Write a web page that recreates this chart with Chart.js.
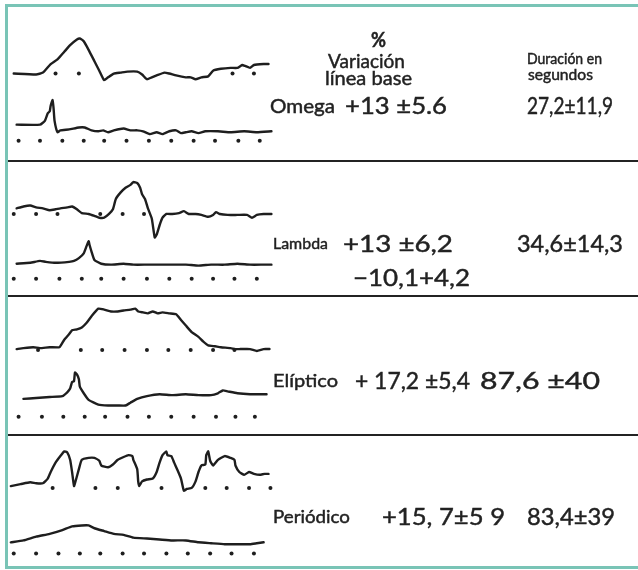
<!DOCTYPE html>
<html>
<head>
<meta charset="utf-8">
<script src="https://cdn.jsdelivr.net/npm/chart.js@4.4.1/dist/chart.umd.min.js"></script>
<style>
  html,body{margin:0;padding:0;background:#fff;}
  body{width:638px;height:570px;position:relative;overflow:hidden;font-family:Lato,"Noto Sans",sans-serif;color:#222;}
  canvas{position:absolute;left:0;}
  .frame{position:absolute;left:5px;top:4px;width:645px;height:565px;box-sizing:border-box;border:3px solid #79c4b6;z-index:5;}
  .rule{position:absolute;left:6px;width:632px;height:2px;background:#232323;z-index:4;}
  .txt{position:absolute;white-space:nowrap;transform-origin:0 50%;z-index:6;line-height:1;-webkit-text-stroke:0.45px #222;}
</style>
</head>
<body>
<div class="frame"></div>
<div class="rule" style="top:160px"></div>
<div class="rule" style="top:295px"></div>
<div class="rule" style="top:434px"></div>
<canvas id="p1" width="290" height="150" style="top:8px"></canvas>
<canvas id="p2" width="290" height="130" style="top:164px"></canvas>
<canvas id="p3" width="290" height="134" style="top:299px"></canvas>
<canvas id="p4" width="290" height="128" style="top:438px"></canvas>
<script>
// ---- data (position along trace, amplitude above the dotted baseline) ----
const omegaTopX = [10,33,40,48,55,62,68,75,78,82,87,93,98,103,107,113,120,127,137,142,147,152,157,165,170,177,187,192,197,203,210,215,223,233,240,245,248,253,257,267,272];
const omegaTopY = [0,-1,1,10,15,23,30,36,37,34,25,13,3,-7,-4,0,1,2,2,-1,-6,-4,-2,1,0,-2,-4,-4,-6,-4,-3,3,5,6,6,9,8,6,9,10,10];
const omegaTopDots = [53,77,235,257];
const omegaBotX = [13,37,42,45,47,48,50,51,52,55,58,67,77,83,90,97,102,107,113,123,130,137,143,150,157,163,170,177,182,187,193,200,207,220,233,247,260,275];
const omegaBotY = [17,17,21,29,31,37,43,34,21,9,11,12,14,14,11,10,11,9,11,13,11,11,10,7,9,7,10,11,8,9,10,8,10,10,9,10,9,10];
const omegaBotDots = [15,37,60,82,103,126,149,172,195,217,241,263];

const lambdaTopX = [13,20,27,33,40,47,53,58,65,70,75,80,87,93,98,103,108,112,115,120,125,130,133,137,140,142,145,148,152,155,157,160,163,167,173,180,185,190,197,203,210,215,218,222,230,240,250,255,260,267,275];
const lambdaTopY = [6,8,9,7,6,4,5,6,7,8,5,1,0,-2,-4,-4,0,5,16,23,28,31,34,33,28,21,16,6,-5,-25,-22,-12,-4,0,0,1,3,0,0,-1,-3,-1,2,0,-1,-1,-1,-4,-1,0,0];
const lambdaTopDots = [10,33,55,99,122,144];
const lambdaBotX = [13,27,37,43,53,67,72,77,82,85,87,88,90,93,100,110,123,133,147,160,173,187,200,213,227,240,253,267,275];
const lambdaBotY = [16,17,19,18,17,18,19,22,27,35,40,36,29,20,16,15,16,15,15,15,15,15,14,15,15,16,15,15,15];
const lambdaBotDots = [10,33,57,80,100,123,147,170,193,215,237,260];

const elipTopX = [13,20,30,37,47,57,62,67,70,75,80,85,90,97,103,110,117,123,130,135,138,143,148,153,158,163,170,177,182,187,193,200,205,210,217,223,233,238,243,253,260,267,273];
const elipTopY = [1,2,3,2,3,3,11,17,21,22,24,29,36,44,43,41,41,42,43,44,41,40,39,41,39,40,39,38,32,26,19,14,9,5,4,3,2,1,1,1,-1,1,1];
const elipTopDots = [35,79,101,124,147,169,192,215,237];
const elipBotX = [20,33,47,60,65,68,70,72,73,75,77,78,82,87,97,107,117,125,130,137,147,160,173,187,200,213,220,225,230,240,253,267,270];
const elipBotY = [19,20,21,22,26,30,37,38,47,45,40,32,25,18,13,12,12,12,15,19,22,24,23,24,23,23,25,28,27,25,24,24,24];
const elipBotDots = [15,39,61,83,104,127,149,172,195,218,238,258];

const perTopX = [7,17,27,33,40,45,48,53,58,62,65,68,70,72,73,77,80,87,93,98,100,107,112,117,123,128,132,133,137,138,139,142,147,153,157,160,163,167,168,172,175,178,182,185,188,193,197,200,203,207,208,210,212,215,220,227,233,237,238,242,247,252,257,263,268,272];
const perTopY = [2,4,6,5,5,10,17,27,34,39,38,30,17,2,5,20,30,32,32,29,24,22,25,30,33,35,34,30,20,7,2,7,9,10,17,27,35,39,35,34,27,20,10,-3,-1,0,7,17,24,25,35,39,29,24,30,34,32,30,24,17,14,17,15,14,15,15];
const perTopDots = [50,94,117,162,207,229,252,274];
const perBotX = [7,20,33,47,60,70,80,87,93,103,113,123,133,147,160,173,187,200,213,227,240,253,260,267];
const perBotY = [12,14,18,21,25,29,30,30,27,24,21,20,17,16,15,14,14,12,11,10,10,10,11,12];
const perBotDots = [10,33,56,78,99,122,144,167,189,212,234,257];

const patterns = ['Omega','Lambda','Elíptico','Periódico'];
const variation = ['+13 ±5.6','+13 ±6,2','+ 17,2 ±5,4','+15, 7±5 9'];
const variation2 = ['−10,1+4,2'];
const duration = ['27,2±11,9','34,6±14,3','87,6 ±40','83,4±39'];

// ---- drawing ----
const INK = '#1e1e1e';
function pts(xs, ys){ return xs.map((x,i)=>({x:x, y:ys[i]})); }
function dots(xs){ return xs.map(x=>({x:x, y:0})); }
function lineDs(xs, ys, axis){
  return {data:pts(xs,ys), showLine:true, borderColor:INK, borderWidth:2.4, pointRadius:0, tension:0.15, yAxisID:axis, borderJoinStyle:'round', borderCapStyle:'round'};
}
function dotDs(xs, axis){
  return {data:dots(xs), showLine:false, pointRadius:2, pointBackgroundColor:INK, pointBorderColor:INK, pointBorderWidth:0, yAxisID:axis};
}
function panel(id, top, height, baseTop, baseBot, tX, tY, tD, bX, bY, bD){
  new Chart(document.getElementById(id), {
    type:'scatter',
    data:{datasets:[dotDs(tD,'yT'), lineDs(tX,tY,'yT'), dotDs(bD,'yB'), lineDs(bX,bY,'yB')]},
    options:{
      responsive:false, animation:false, devicePixelRatio:1, events:[],
      layout:{padding:0},
      plugins:{legend:{display:false}, tooltip:{enabled:false}},
      scales:{
        x:{type:'linear', min:0, max:290, display:false},
        yT:{type:'linear', min:baseTop-(top+height), max:baseTop-top, display:false},
        yB:{type:'linear', min:baseBot-(top+height), max:baseBot-top, display:false}
      }
    }
  });
}
panel('p1', 8, 150, 73, 144, omegaTopX, omegaTopY, omegaTopDots, omegaBotX, omegaBotY, omegaBotDots);
panel('p2', 164, 130, 213, 282, lambdaTopX, lambdaTopY, lambdaTopDots, lambdaBotX, lambdaBotY, lambdaBotDots);
panel('p3', 299, 134, 349, 420, elipTopX, elipTopY, elipTopDots, elipBotX, elipBotY, elipBotDots);
panel('p4', 438, 128, 487, 557, perTopX, perTopY, perTopDots, perBotX, perBotY, perBotDots);

// ---- text ----
const texts = [
  {t:'%', x:378, y:39, s:20, b:700, w:15, c:true},
  {t:'Variación', x:328, y:60, s:19, w:77},
  {t:'línea base', x:325, y:77, s:19, w:87},
  {t:'Duración en', x:527, y:59, s:14.5, w:75},
  {t:'segundos', x:528, y:75, s:14.5, w:65},
  {t:patterns[0], x:270, y:105, s:19, w:65},
  {t:variation[0], x:345, y:105, s:24, w:102},
  {t:duration[0], x:527, y:105, s:24, w:86},
  {t:patterns[1], x:273, y:243, s:16, w:55},
  {t:variation[1], x:343, y:243, s:24, w:110},
  {t:duration[1], x:517, y:243, s:24, w:106},
  {t:variation2[0], x:353, y:277, s:24, w:117},
  {t:patterns[2], x:273, y:380, s:18, w:65},
  {t:variation[2], x:355, y:380, s:24, w:115},
  {t:duration[2], x:480, y:380, s:24, w:120},
  {t:patterns[3], x:273, y:516, s:17, w:77},
  {t:variation[3], x:382, y:516, s:24, w:123},
  {t:duration[3], x:527, y:516, s:24, w:88}
];
texts.forEach(it=>{
  const d = document.createElement('div');
  d.className = 'txt';
  d.textContent = it.t;
  d.style.fontSize = it.s + 'px';
  d.style.fontWeight = it.b || 400;
  d.style.top = it.y + 'px';
  d.style.left = it.x + 'px';
  document.body.appendChild(d);
  const w = d.getBoundingClientRect().width;
  const k = it.w / w;
  if (it.c) d.style.left = (it.x - it.w/2) + 'px';
  d.style.transform = 'translateY(-50%) scaleX(' + k.toFixed(3) + ')';
});
</script>
</body>
</html>
